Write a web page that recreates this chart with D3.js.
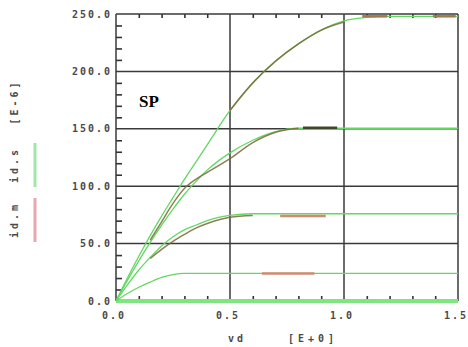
<!DOCTYPE html>
<html><head><meta charset="utf-8">
<script src="https://cdn.jsdelivr.net/npm/d3@7"></script>
<style>
html,body{margin:0;padding:0;background:#fff;}
svg{display:block;}
.lbl{font-family:"DejaVu Sans Mono",monospace;font-size:10px;fill:#4a4a4a;font-weight:bold;}
</style></head>
<body>
<script>
// ---- data ----
const vdGrid = [0,0.05,0.1,0.15,0.2,0.25,0.3,0.35,0.4,0.5,0.6,0.7,0.8,0.9,1.0,1.1,1.2,1.3,1.4,1.5];
// simulated id.s curves [E-6]
const sim250 = [0,20,39,57,74,90,106,121,136,166,190,209,224,236,244,247,248,248,248,248];
const sim150 = [0,18,35,51,66,80,93,104,114,129,140,147.5,150.5,150.5,150.5,150.5,150.5,150.5,150.5,150.5];
const sim78  = [0,14,27,38,48,56,62,66,70,74.5,76,76,76,76,76,76,76,76,76,76];
const sim27  = [0,6.5,12,16.5,20.5,23,24,24,24,24,24,24,24,24,24,24,24,24,24,24];
const sim0   = [0,0,0,0,0,0,0,0,0,0,0,0,0,0,0,0,0,0,0,0];
// measured id.m overlays (null = not visible)
const meas250 = [null,null,null,null,null,null,null,null,null,166,190,209,224,236,243,null,null,null,null,null];
const meas150 = [null,null,null,53,69,85,98,106,112,124,138,147,150.5,null,null,null,null,null,null,null];
const meas78  = [null,null,null,37,45,52,58,63.5,67.5,73,74.5,null,null,null,null,null,null,null,null,null];
// measured plateau segments
const segStart = [1.08,1.39,0.82,0.72,0.64];
const segEnd   = [1.19,1.49,0.97,0.92,0.87];
const segValue = [248,248,151,74,24];
const segColor = ["#a07a4a","#a07a4a","#3c4a2c","#d08a70","#d08a70"];
// ticks
const xTicks = [0,0.5,1.0,1.5];
const xTickLabels = ["0.0","0.5","1.0","1.5"];
const yTicks = [0,50,100,150,200,250];
const yTickLabels = ["0.0","50.0","100.0","150.0","200.0","250.0"];
const legendLabels = ["id.m","id.s"];
const legendColors = ["#e8a8b0","#a0e6aa"];

// ---- drawing ----
const W=468,H=347;
const svg=d3.select("body").append("svg").attr("width",W).attr("height",H);
const x=d3.scaleLinear().domain([0,1.5]).range([116,458]);
const y=d3.scaleLinear().domain([0,250]).range([301,14]);

// minor ticks
const xMinor=d3.range(1,15).map(i=>i/10).filter(v=>Math.abs(v*2-Math.round(v*2))>1e-6);
const yMinor=d3.range(10,250,10).filter(v=>v%50!==0);
svg.append("g").attr("transform","translate(116,0)")
  .call(d3.axisLeft(y).tickValues(yMinor).tickSize(-6).tickFormat(""))
  .call(g=>g.select(".domain").remove())
  .selectAll("line").attr("stroke","#333").attr("stroke-width",1.6);
svg.append("g").attr("transform","translate(0,301)")
  .call(d3.axisBottom(x).tickValues(xMinor).tickSize(-5).tickFormat(""))
  .call(g=>g.select(".domain").remove())
  .selectAll("line").attr("stroke","#333").attr("stroke-width",1.6);
svg.append("g").attr("transform","translate(0,14)")
  .call(d3.axisTop(x).tickValues(xMinor).tickSize(-4).tickFormat(""))
  .call(g=>g.select(".domain").remove())
  .selectAll("line").attr("stroke","#333").attr("stroke-width",1.6);

// grid
svg.append("g").selectAll("line").data(xTicks).join("line")
  .attr("x1",d=>x(d)).attr("x2",d=>x(d)).attr("y1",y(250)).attr("y2",y(0))
  .attr("stroke","#3a3a3a").attr("stroke-width",1.5);
svg.append("g").selectAll("line").data(yTicks).join("line")
  .attr("x1",x(0)).attr("x2",x(1.5)).attr("y1",d=>y(d)).attr("y2",d=>y(d))
  .attr("stroke","#3a3a3a").attr("stroke-width",1.5);

// tick labels
svg.append("g").selectAll("text").data(yTicks).join("text").attr("class","lbl")
  .attr("x",110).attr("y",d=>y(d)+3.5).attr("text-anchor","end")
  .attr("letter-spacing","2px").attr("dx","2")
  .text((d,i)=>yTickLabels[i]);
svg.append("g").selectAll("text").data(xTicks).join("text").attr("class","lbl")
  .attr("x",d=>x(d)-2).attr("y",318.5).attr("text-anchor","middle")
  .attr("letter-spacing","2px")
  .text((d,i)=>xTickLabels[i]);

// axis title
svg.append("text").attr("class","lbl").attr("x",237).attr("y",342).attr("text-anchor","middle")
  .attr("letter-spacing","3px").text("vd");
svg.append("text").attr("class","lbl").attr("x",313).attr("y",342).attr("text-anchor","middle")
  .attr("letter-spacing","4px").text("[E+0]");

// legend (rotated)
const legY=[220,165];
legendLabels.forEach((t,i)=>{
  svg.append("text").attr("class","lbl")
    .attr("transform",`translate(18,${legY[i]}) rotate(-90)`)
    .attr("text-anchor","middle").attr("letter-spacing","3px").text(t);
  svg.append("line").attr("x1",35).attr("x2",35)
    .attr("y1",legY[i]-22).attr("y2",legY[i]+22)
    .attr("stroke",legendColors[i]).attr("stroke-width",3);
});
svg.append("text").attr("class","lbl")
  .attr("transform","translate(18,102) rotate(-90)")
  .attr("text-anchor","middle").attr("letter-spacing","3px").text("[E-6]");

// curves
const line=d3.line().defined(d=>d[1]!=null).x(d=>x(d[0])).y(d=>y(d[1])).curve(d3.curveMonotoneX);
const pts=arr=>vdGrid.map((v,i)=>[v,arr[i]]);
const plot=svg.append("g");
plot.append("path").attr("d",line(pts(sim0))).attr("fill","none").attr("stroke","#7fe67f").attr("stroke-width",4);
[sim27,sim78,sim150,sim250].forEach(s=>{
  plot.append("path").attr("d",line(pts(s))).attr("fill","none").attr("stroke","#62d862").attr("stroke-width",1.3);
});
[meas78,meas150,meas250].forEach(s=>{
  plot.append("path").attr("d",line(pts(s))).attr("fill","none").attr("stroke","#7a6a38").attr("stroke-width",1.5).attr("stroke-opacity",0.85);
});
plot.selectAll(".seg").data(segValue).join("line").attr("class","seg")
  .attr("x1",(d,i)=>x(segStart[i])).attr("x2",(d,i)=>x(segEnd[i]))
  .attr("y1",d=>y(d)).attr("y2",d=>y(d))
  .attr("stroke",(d,i)=>segColor[i]).attr("stroke-width",2.5);

// SP label
svg.append("text").attr("x",139).attr("y",107)
  .style("font-family","'Liberation Serif',serif").style("font-weight","bold").style("font-size","17px")
  .attr("fill","#000").text("SP");
</script>
</body></html>
